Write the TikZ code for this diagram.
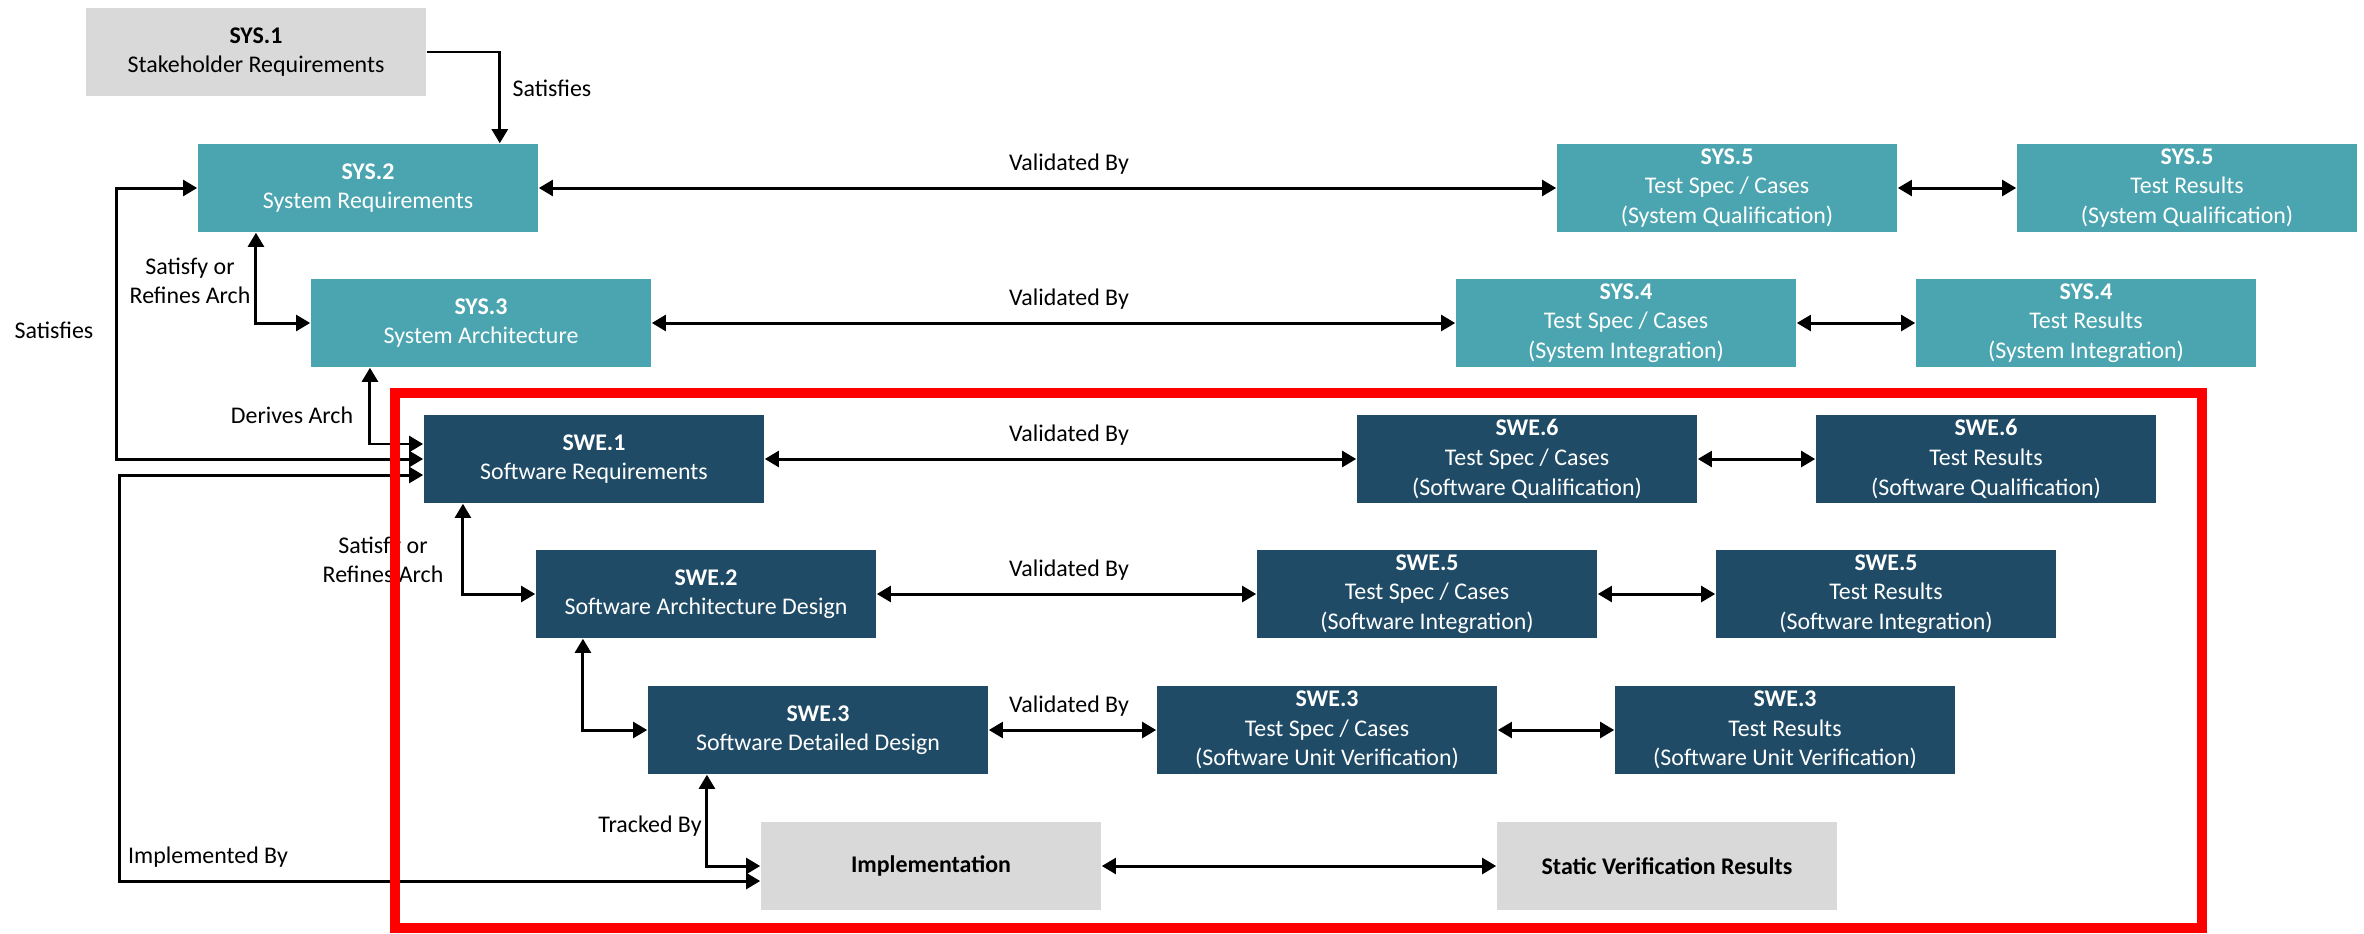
\documentclass[tikz,border=0pt]{standalone}
\usepackage{fontspec}
\setmainfont{Carlito}
\usetikzlibrary{arrows.meta}

\definecolor{systeal}{RGB}{75,165,176}
\definecolor{swenavy}{RGB}{31,75,102}
\definecolor{reqgray}{RGB}{217,217,217}

\begin{document}
\begin{tikzpicture}[x=0.01cm, y=-0.01cm,
    font=\fontsize{6.8}{8.4}\selectfont,
    box/.style={minimum width=3.4cm, minimum height=0.88cm, align=center, inner sep=0pt},
    sysbox/.style={box, fill=systeal, text=white},
    swebox/.style={box, fill=swenavy, text=white},
    graybox/.style={box, fill=reqgray, text=black},
    link/.style={line width=0.85pt, -{Triangle[length=4pt,width=4.5pt]}},
    dlink/.style={line width=0.85pt, {Triangle[length=4pt,width=4.5pt]}-{Triangle[length=4pt,width=4.5pt]}},
    lbl/.style={align=center, inner sep=0pt}]
    \useasboundingbox (0,0) rectangle (2364,933);

    % left column: requirements and design
    \node[graybox] (sys1) at (256,52) {\textbf{SYS.1}\\Stakeholder Requirements};
    \node[sysbox] (sys2) at (368,188) {\textbf{SYS.2}\\System Requirements};
    \node[sysbox] (sys3) at (481,323) {\textbf{SYS.3}\\System Architecture};
    \node[swebox] (swe1) at (594,459) {\textbf{SWE.1}\\Software Requirements};
    \node[swebox] (swe2) at (706,594) {\textbf{SWE.2}\\Software Architecture Design};
    \node[swebox] (swe3) at (818,730) {\textbf{SWE.3}\\Software Detailed Design};
    \node[graybox] (impl) at (931,866) {\textbf{Implementation}};

    % right columns: test specs and results
    \node[sysbox] (sys5s) at (1727,188) {\textbf{SYS.5}\\Test Spec / Cases\\(System Qualification)};
    \node[sysbox] (sys5r) at (2187,188) {\textbf{SYS.5}\\Test Results\\(System Qualification)};
    \node[sysbox] (sys4s) at (1626,323) {\textbf{SYS.4}\\Test Spec / Cases\\(System Integration)};
    \node[sysbox] (sys4r) at (2086,323) {\textbf{SYS.4}\\Test Results\\(System Integration)};
    \node[swebox] (swe6s) at (1527,459) {\textbf{SWE.6}\\Test Spec / Cases\\(Software Qualification)};
    \node[swebox] (swe6r) at (1986,459) {\textbf{SWE.6}\\Test Results\\(Software Qualification)};
    \node[swebox] (swe5s) at (1427,594) {\textbf{SWE.5}\\Test Spec / Cases\\(Software Integration)};
    \node[swebox] (swe5r) at (1886,594) {\textbf{SWE.5}\\Test Results\\(Software Integration)};
    \node[swebox] (swe3s) at (1327,730) {\textbf{SWE.3}\\Test Spec / Cases\\(Software Unit Verification)};
    \node[swebox] (swe3r) at (1785,730) {\textbf{SWE.3}\\Test Results\\(Software Unit Verification)};
    \node[graybox] (svr) at (1667,866) {\textbf{Static Verification Results}};

    % traceability links
    \draw[link] (sys1.east) -| ([xshift=-0.39cm]sys2.north east);
    \node[lbl, anchor=west] (satA) at (512,88) {Satisfies};

    \draw[dlink] (swe1.west) -- ++(-307,0) |- (sys2.west);
    \node[lbl] (satB) at (54,330) {Satisfies};

    \draw[dlink] ([yshift=-0.16cm]swe1.west) -- ++(-304,0) |- ([yshift=-0.15cm]impl.west);
    \node[lbl] (implby) at (208,857) {Implemented By};

    \draw[dlink] ([xshift=-1.12cm]sys2.south) |- (sys3.west);
    \node[lbl] (refA) at (190,281) {Satisfy or\\Refines Arch};

    \draw[dlink] ([xshift=-1.11cm]sys3.south) |- ([yshift=0.15cm]swe1.west);
    \node[lbl] (derA) at (292,415) {Derives Arch};

    \draw[dlink] ([xshift=-1.31cm]swe1.south) |- (swe2.west);
    \node[lbl] (refB) at (383,560) {Satisfy or\\Refines Arch};

    \draw[dlink] ([xshift=-1.23cm]swe2.south) |- (swe3.west);

    \draw[dlink] ([xshift=-1.11cm]swe3.south) |- (impl.west);
    \node[lbl] (trk) at (650,826) {Tracked By};

    % validation links
    \draw[dlink] (sys2.east) -- (sys5s.west);
    \node[lbl] (valA) at (1069,164) {Validated By};
    \draw[dlink] (sys3.east) -- (sys4s.west);
    \node[lbl] (valB) at (1069,299) {Validated By};
    \draw[dlink] (swe1.east) -- (swe6s.west);
    \node[lbl] (valC) at (1069,435) {Validated By};
    \draw[dlink] (swe2.east) -- (swe5s.west);
    \node[lbl] (valD) at (1069,570) {Validated By};
    \draw[dlink] (swe3.east) -- (swe3s.west);
    \node[lbl] (valE) at (1069,706) {Validated By};

    % spec to results
    \draw[dlink] (sys5s.east) -- (sys5r.west);
    \draw[dlink] (sys4s.east) -- (sys4r.west);
    \draw[dlink] (swe6s.east) -- (swe6r.west);
    \draw[dlink] (swe5s.east) -- (swe5r.west);
    \draw[dlink] (swe3s.east) -- (swe3r.west);
    \draw[dlink] (impl.east) -- (svr.west);

    % software scope frame
    \draw[red, line width=2.85pt] (395,393) rectangle (2202,928);
\end{tikzpicture}
\end{document}
